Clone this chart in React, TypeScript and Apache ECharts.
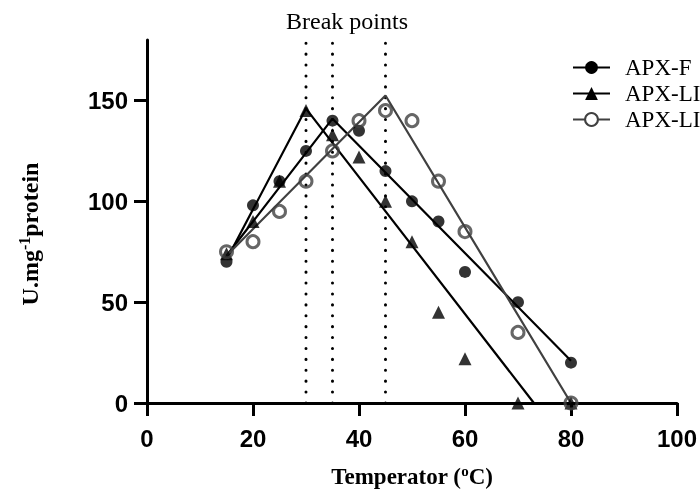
import React, { useEffect, useRef } from "react";
import * as echarts from "echarts";

const temps = [15, 20, 25, 30, 35, 40, 45, 50, 55, 60, 70, 80];
const apxF = [70, 98, 110, 125, 140, 135, 115, 100, 90, 65, 50, 20];
const apxLI = [74, 90, 110, 145, 133, 122, 100, 80, 45, 22, 0, 0];
const apxLII = [75, 80, 95, 110, 125, 140, 145, 140, 110, 85, 35, 0];

const fitF = [[15, 73], [35, 141], [80, 21]];
const fitLI = [[15, 71], [30, 146], [73, 0]];
const fitLII = [[15, 73], [45, 152.5], [80, 0]];

const breakPoints = [30, 35, 45];
const yTicks = [0, 50, 100, 150];

const names = ["APX-F", "APX-LI", "APX-LII"];

export default function App() {
  const ref = useRef<HTMLDivElement>(null);
  useEffect(() => {
    const chart = echarts.init(ref.current!, null, { renderer: "svg" });
    const pts = (ys: number[]) => temps.map((t, i) => [t, ys[i]]);
    const serif = "'Liberation Serif', 'Times New Roman', serif";
    const sans = "'Liberation Sans', Arial, sans-serif";
    const series: any[] = [];
    breakPoints.forEach((b) => {
      series.push({
        type: "line",
        name: "bp" + b,
        data: [[b, 0], [b, 180]],
        symbol: "none",
        silent: true,
        clip: false,
        lineStyle: { color: "#000", width: 3, type: [0.1, 10.8], cap: "round" },
        z: 1,
      });
    });
    series.push(
      {
        type: "line", name: names[0], data: fitF, symbol: "circle", showSymbol: false,
        lineStyle: { color: "#000", width: 2.2 }, itemStyle: { color: "#000" }, z: 2,
      },
      {
        type: "line", name: names[1], data: fitLI, symbol: "triangle", showSymbol: false,
        lineStyle: { color: "#000", width: 2.2 }, itemStyle: { color: "#000" }, z: 2,
      },
      {
        type: "line", name: names[2], data: fitLII, symbol: "emptyCircle", showSymbol: false,
        lineStyle: { color: "#404040", width: 2.2 }, itemStyle: { color: "#404040" }, z: 2,
      },
      {
        type: "scatter", name: "F-pts", data: pts(apxF), symbol: "circle", symbolSize: 12,
        itemStyle: { color: "#000" }, z: 3,
      },
      {
        type: "scatter", name: "LI-pts", data: pts(apxLI), symbol: "triangle", symbolSize: 13,
        itemStyle: { color: "#000" }, z: 3,
      },
      {
        type: "scatter", name: "LII-pts", data: pts(apxLII), symbol: "circle", symbolSize: 12,
        itemStyle: { color: "transparent", borderColor: "#404040", borderWidth: 3 }, z: 4,
      }
    );
    const titleRich = {
      a: { fontFamily: serif, fontWeight: "bold", fontSize: 24, color: "#000" },
      s: { fontFamily: serif, fontWeight: "bold", fontSize: 16, color: "#000", padding: [0, 0, 12, 0] },
    };
    chart.setOption({
      animation: false,
      grid: { left: 147, right: 19, top: 40, bottom: 95, containLabel: false },
      legend: {
        data: names,
        orient: "vertical",
        left: 567,
        top: 51,
        itemWidth: 37,
        itemHeight: 16,
        itemGap: 3,
        textStyle: { fontFamily: serif, fontSize: 23, color: "#000", padding: [0, 0, 0, 10] },
      },
      graphic: [
        {
          type: "text",
          left: 286,
          top: 9,
          style: { text: "Break points", font: `24px ${serif}`, fill: "#000" },
        },
        {
          type: "text",
          x: 30,
          y: 234,
          rotation: Math.PI / 2,
          style: {
            text: "{a|U.mg}{s|-1}{a|protein}",
            rich: titleRich,
            align: "center",
            verticalAlign: "middle",
          },
        },
      ],
      xAxis: {
        type: "value",
        min: 0,
        max: 100,
        interval: 20,
        axisLine: { lineStyle: { color: "#000", width: 3 } },
        axisTick: { show: true, length: 13, lineStyle: { color: "#000", width: 3 } },
        axisLabel: { color: "#000", fontFamily: sans, fontWeight: "bold", fontSize: 24, margin: 23 },
        splitLine: { show: false },
        name: "{a|Temperator (}{s|o}{a|C)}",
        nameLocation: "middle",
        nameGap: 60,
        nameTextStyle: {
          rich: {
            a: { fontFamily: serif, fontWeight: "bold", fontSize: 23, color: "#000" },
            s: { fontFamily: serif, fontWeight: "bold", fontSize: 15, color: "#000", padding: [0, 0, 12, 0] },
          },
        },
      },
      yAxis: {
        type: "value",
        min: 0,
        max: 180,
        interval: 50,
        axisLine: { lineStyle: { color: "#000", width: 3 } },
        axisTick: { show: true, length: 13, customValues: yTicks, lineStyle: { color: "#000", width: 3 } },
        axisLabel: { color: "#000", fontFamily: sans, fontWeight: "bold", fontSize: 24, margin: 19, customValues: yTicks },
        splitLine: { show: false },
      },
      series,
    });
    return () => chart.dispose();
  }, []);
  return <div ref={ref} style={{ position: "fixed", left: 0, top: 0, width: 700, height: 498 }} />;
}
